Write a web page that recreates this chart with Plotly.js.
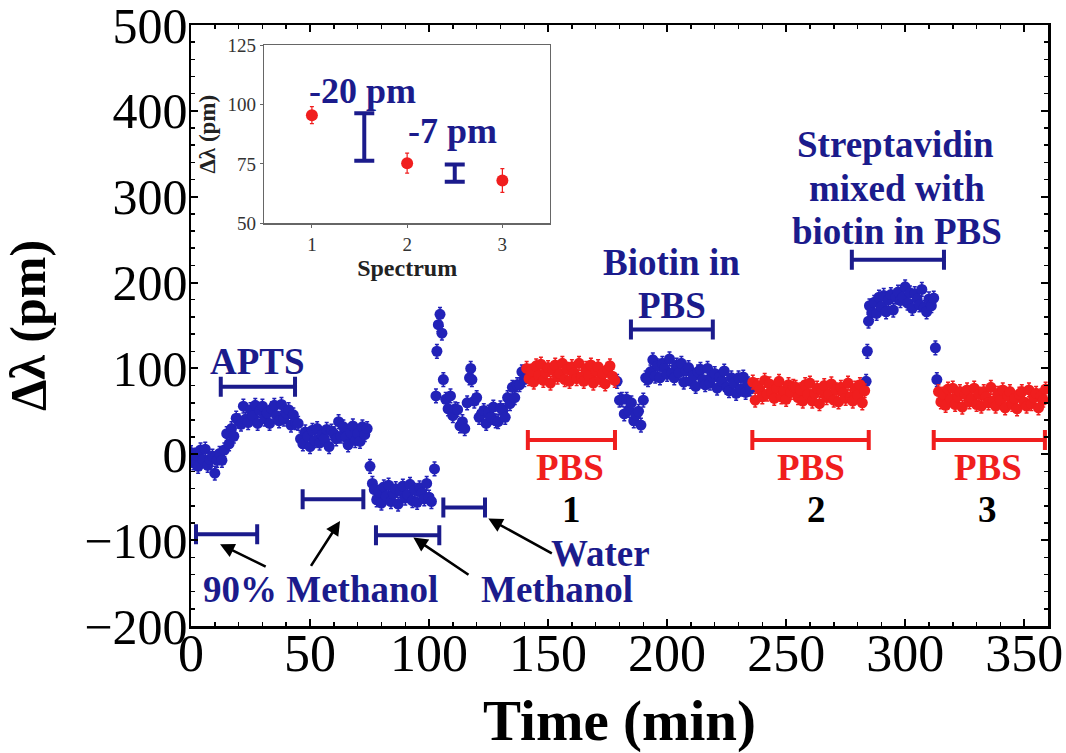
<!DOCTYPE html>
<html><head><meta charset="utf-8">
<script src="https://cdn.plot.ly/plotly-3.0.1.min.js"></script>
<style>html,body{margin:0;padding:0;background:#fff}#chart{width:1066px;height:753px}</style>
</head><body><div id="chart"></div>
<script>
// ---------------- main time series ----------------
const blueTime = [0,1,2,3,4,5,6,7,8,9,10,11,12,13,14,15,16,17,18,19,20,21,22,23,24,25,26,27,28,29,30,31,32,33,34,35,36,37,38,39,40,41,42,43,44,45,46,47,48,49,50,51,52,53,54,55,56,57,58,59,60,61,62,63,64,65,66,67,68,69,70,71,72,73,74,
  75.2,76.2,77,78,79,80,81,82,83,84,85,86,87,88,89,90,91,92,93,94,95,96,97,98,99,100,101,102.3,
  102.9,103.3,103.9,104.6,105.4,106,107,108,109,110,111,112,113,114,115,116,117,117.5,118,119,120,121,122,123,124,125,126,127,128,129,130,131,132,133,134,135,136,137,138,139,140,
  179,180,181,182,183,184,185,186,187,188,189,190,191,192,193,194,195,196,197,198,199,200,201,202,203,204,205,206,207,208,209,210,211,212,213,214,215,216,217,218,219,220,221,222,223,224,225,226,227,228,229,230,231,232,233,234,235,
  283.6,284.1,284.6,285,286,287,288,289,290,291,292,293,294,295,296,297,298,299,300,301,302,303,304,305,306,307,308,309,310,311,312,312.7,313.3];
const blueShift = [2,-10,-1,-14,5,-6,6,-13,-6,-2,-22,-7,1,-7,5,24,12,30,21,42,39,35,56,41,37,52,45,57,36,51,56,41,48,36,53,57,45,39,58,41,48,52,34,46,37,36,18,12,26,21,9,28,16,30,13,23,18,29,9,27,24,18,38,21,32,20,11,25,33,16,24,15,32,23,30,
  -14,-34,-41,-53,-44,-57,-38,-49,-36,-55,-46,-40,-58,-43,-37,-51,-47,-35,-54,-42,-56,-39,-45,-52,-34,-50,-55,-17,
  68,120,151,163,141,87,64,53,68,45,53,52,33,38,30,60,89,100,87,62,66,43,47,51,36,49,43,55,39,38,54,51,43,66,59,78,66,81,81,96,87,
  85,63,64,47,64,51,60,39,46,50,34,63,89,87,96,110,91,103,89,106,100,93,111,95,89,104,95,106,84,97,101,85,92,79,96,99,87,81,100,83,90,94,77,90,85,97,78,74,89,83,71,89,76,90,72,82,76,
  85,120,155,173,165,177,164,183,172,185,166,180,186,168,183,189,179,183,195,176,188,170,187,181,174,192,171,166,181,173,182,124,87];

const redTime = [141,142,143,144,145,146,147,148,149,150,151,152,153,154,155,156,157,158,159,160,161,162,163,164,165,166,167,168,169,170,171,172,173,174,175,176,177,178,
  236,237,238,239,240,241,242,243,244,245,246,247,248,249,250,251,252,253,254,255,256,257,258,259,260,261,262,263,264,265,266,267,268,269,270,271,272,273,274,275,276,277,278,279,280,281,282,283,
  314,315,316,317,318,319,320,321,322,323,324,325,326,327,328,329,330,331,332,333,334,335,336,337,338,339,340,341,342,343,344,345,346,347,348,349,350,351,352,353,354,355,356,357,358,359];
const redShift = [100,88,97,84,103,92,105,86,95,101,83,98,104,90,94,106,87,99,85,102,95,88,106,90,85,100,92,104,83,97,102,87,94,82,99,103,91,86,
  84,63,80,75,67,86,70,82,72,65,77,85,67,74,64,81,72,79,78,66,75,62,81,70,83,62,71,77,59,74,80,66,70,82,63,75,61,78,72,65,83,67,62,77,69,81,60,74,
  73,61,70,57,76,64,77,58,67,73,55,70,75,61,65,77,58,70,56,73,67,60,78,62,56,71,63,75,54,68,73,58,65,53,70,73,61,56,75,59,66,71,54,68,63,76];
const ERR = 8;   // typical error bar half-length (pm)

// ---------------- step brackets (start / end time, level) ----------------
const stepNames  = ['90% Methanol','APTS','Methanol','Methanol','Water','Biotin in PBS','Streptavidin'];
const stepStart  = [2.1, 12.5, 46.9, 77.7, 106.0, 184.8, 277.6];
const stepEnd    = [27.8, 43.7, 72.4, 104.3, 123.5, 219.2, 316.3];
const stepLevel  = [-93, 78.7, -52.3, -94.2, -62, 145.3, 226.7];

const pbsStart = [141.5, 235.8, 312.0];
const pbsEnd   = [178.1, 284.7, 358.7];
const pbsLevel = [16.6, 16.6, 16.6];
const pbsNumbers = ['1','2','3'];

// ---------------- text labels ----------------
const labelText = ['APTS','90% Methanol','Methanol','Water','Biotin in','PBS','Streptavidin','mixed with','biotin in PBS'];
const labelX    = [27.9, 54.2, 153.7, 172.2, 202, 202, 296.1, 296.5, 296.5];
const labelY    = [107.6, -157, -157, -115, 223.8, 173.5, 360.5, 309.3, 259.9];
const pbsLabelX = [159.4, 260.4, 334.6];
const pbsLabelY = -15.5;
const numLabelX = [159.9, 262.7, 334.6];
const numLabelY = -64;

// arrows: head (x,y) and tail (x,y)
const arrowHeadX = [12.2, 62.6, 93.4, 124.9];
const arrowHeadY = [-104.7, -77.6, -96.9, -74.8];
const arrowTailX = [32, 50, 117.2, 152.2];
const arrowTailY = [-131.7, -131.7, -141.5, -116.3];

// ---------------- inset ----------------
const insetSpectrum = [1, 2, 3];
const insetShift    = [95.5, 75.3, 68];
const insetErr      = [3.6, 4.2, 5];
const insetBarX      = [1.55, 2.5];
const insetBarTop    = [96.3, 74.7];
const insetBarBottom = [76.3, 67.5];
const insetBarText   = ['-20 pm', '-7 pm'];
const insetTextX     = [1.53, 2.48];
const insetTextY     = [105.6, 88.9];

const xTicks = [0,50,100,150,200,250,300,350];
const yTicks = [-200,-100,0,100,200,300,400,500];
const insetXTicks = [1,2,3];
const insetYTicks = [50,75,100,125];

// ---------------- styles ----------------
const BLUE = 'rgb(34,34,184)';
const RED  = 'rgb(240,30,30)';
const NAVY = 'rgb(27,27,140)';
const SERIF = '"Liberation Serif", "Times New Roman", Times, serif';

const traces = [
  {type:'scatter', mode:'markers', x:blueTime, y:blueShift, xaxis:'x', yaxis:'y',
   marker:{color:BLUE, size:11},
   error_y:{type:'constant', value:ERR, color:BLUE, thickness:1.5, width:2}},
  {type:'scatter', mode:'markers', x:redTime, y:redShift, xaxis:'x', yaxis:'y',
   marker:{color:RED, size:11},
   error_y:{type:'constant', value:ERR, color:RED, thickness:1.5, width:2}},
  // navy brackets
  {type:'scatter', mode:'markers', x:stepStart.map((s,i)=>(s+stepEnd[i])/2), y:stepLevel,
   marker:{size:1, color:'rgba(0,0,0,0)'}, hoverinfo:'skip',
   error_x:{type:'data', symmetric:true, array:stepStart.map((s,i)=>(stepEnd[i]-s)/2), color:NAVY, thickness:4, width:10}},
  // red PBS brackets
  {type:'scatter', mode:'markers', x:pbsStart.map((s,i)=>(s+pbsEnd[i])/2), y:pbsLevel,
   marker:{size:1, color:'rgba(0,0,0,0)'}, hoverinfo:'skip',
   error_x:{type:'data', symmetric:true, array:pbsStart.map((s,i)=>(pbsEnd[i]-s)/2), color:RED, thickness:4, width:10}},
  // inset points
  {type:'scatter', mode:'markers', x:insetSpectrum, y:insetShift, xaxis:'x2', yaxis:'y2',
   marker:{color:RED, size:12},
   error_y:{type:'data', array:insetErr, color:RED, thickness:1.2, width:2}},
  // inset differences
  {type:'scatter', mode:'markers', x:insetBarX, y:insetBarTop.map((t,i)=>(t+insetBarBottom[i])/2), xaxis:'x2', yaxis:'y2',
   marker:{size:1, color:'rgba(0,0,0,0)'}, hoverinfo:'skip',
   error_y:{type:'data', symmetric:true, array:insetBarTop.map((t,i)=>(t-insetBarBottom[i])/2), color:NAVY, thickness:4, width:10}}
];

const annotations = [];
labelText.forEach((t,i)=>annotations.push({xref:'x', yref:'y', x:labelX[i], y:labelY[i], text:'<b>'+t+'</b>', showarrow:false,
  font:{family:SERIF, size:37, color:NAVY}}));
pbsLabelX.forEach((x,i)=>{
  annotations.push({xref:'x', yref:'y', x:x, y:pbsLabelY, text:'<b>PBS</b>', showarrow:false, font:{family:SERIF, size:37, color:RED}});
  annotations.push({xref:'x', yref:'y', x:numLabelX[i], y:numLabelY, text:'<b>'+pbsNumbers[i]+'</b>', showarrow:false, font:{family:SERIF, size:37, color:'#000'}});
});
arrowHeadX.forEach((x,i)=>annotations.push({xref:'x', yref:'y', axref:'x', ayref:'y', x:x, y:arrowHeadY[i], ax:arrowTailX[i], ay:arrowTailY[i],
  text:'', showarrow:true, arrowhead:2, arrowsize:1.1, arrowwidth:2.6, arrowcolor:'#000', standoff:0, startstandoff:0}));
insetBarText.forEach((t,i)=>annotations.push({xref:'x2', yref:'y2', x:insetTextX[i], y:insetTextY[i], text:'<b>'+t+'</b>', showarrow:false,
  font:{family:SERIF, size:36, color:NAVY}}));

const mainAxis = {
  showgrid:false, zeroline:false, showline:true, linecolor:'#000', linewidth:2.5, mirror:'allticks',
  ticks:'inside', ticklen:7, tickwidth:2, tickcolor:'#000', ticklabeloverflow:'allow',
  tickfont:{family:SERIF, size:50, color:'#000'}
};

const layout = {
  width:1066, height:753,
  margin:{l:191, r:18, t:25, b:127, pad:0},
  paper_bgcolor:'#fff', plot_bgcolor:'#fff',
  showlegend:false,
  font:{family:SERIF, color:'#000'},
  xaxis:Object.assign({}, mainAxis, {range:[0,360], tickvals:xTicks, domain:[0,1], anchor:'y',
    tickfont:{family:SERIF, size:52, color:'#000'}, ticklabelstandoff:-20,
    minor:{dtick:10, ticks:'inside', ticklen:4, tickwidth:1.5, tickcolor:'#000', showgrid:false},
    title:{text:'\u00a0\u00a0\u00a0<b>Time (min)</b>', font:{family:SERIF, size:57, color:'#000'}, standoff:30}}),
  yaxis:Object.assign({}, mainAxis, {range:[-200,500], tickvals:yTicks, domain:[0,1], anchor:'x',
    ticklabelstandoff:-9,
    minor:{dtick:20, ticks:'inside', ticklen:4, tickwidth:1.5, tickcolor:'#000', showgrid:false},
    title:{text:'<b>Δλ (pm)</b>', font:{family:SERIF, size:50, color:'#000'}, standoff:27}}),
  xaxis2:{domain:[0.0855,0.4189], anchor:'y2', range:[0.5,3.5], tickvals:insetXTicks,
    showgrid:false, zeroline:false, showline:true, linecolor:'#666', linewidth:1.5, mirror:true,
    ticks:'outside', ticklen:3, tickwidth:1, tickcolor:'#666',
    tickfont:{family:SERIF, size:19, color:'#333'},
    title:{text:'<b>Spectrum</b>', font:{family:SERIF, size:24, color:'#222'}, standoff:4}},
  yaxis2:{domain:[0.670,0.9667], anchor:'x2', range:[50,125], tickvals:insetYTicks,
    showgrid:false, zeroline:false, showline:true, linecolor:'#666', linewidth:1.5, mirror:true,
    ticks:'outside', ticklen:3, tickwidth:1, tickcolor:'#666',
    tickfont:{family:SERIF, size:19, color:'#333'},
    title:{text:'<b>Δλ (pm)</b>', font:{family:SERIF, size:23, color:'#222'}, standoff:5}},
  annotations:annotations
};

Plotly.newPlot('chart', traces, layout, {staticPlot:true, displayModeBar:false});
</script>
</body></html>
